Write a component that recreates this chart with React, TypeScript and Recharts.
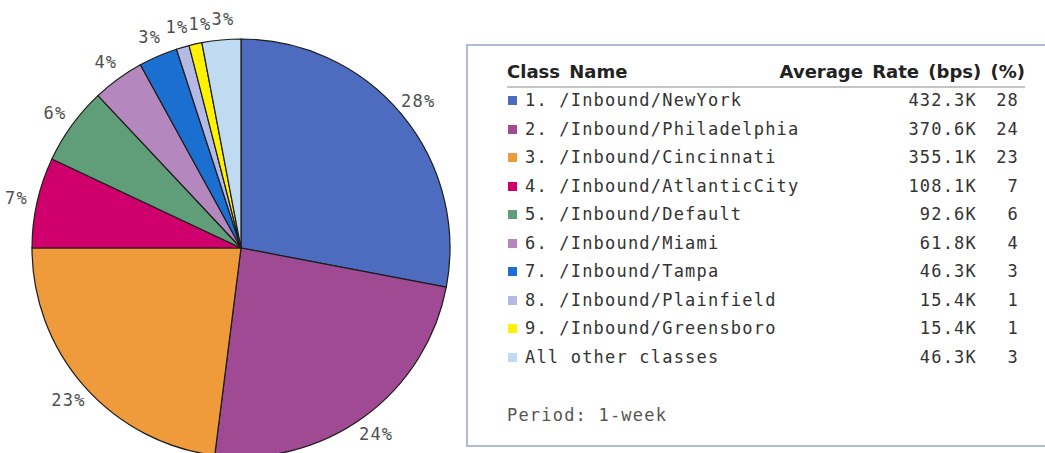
import { PieChart, Pie, Cell, Legend } from 'recharts';

const classNames = [
  '1. /Inbound/NewYork',
  '2. /Inbound/Philadelphia',
  '3. /Inbound/Cincinnati',
  '4. /Inbound/AtlanticCity',
  '5. /Inbound/Default',
  '6. /Inbound/Miami',
  '7. /Inbound/Tampa',
  '8. /Inbound/Plainfield',
  '9. /Inbound/Greensboro',
  'All other classes',
];
const avgRates = [432.3, 370.6, 355.1, 108.1, 92.6, 61.8, 46.3, 15.4, 15.4, 46.3];
const ratePercents = [28, 24, 23, 7, 6, 4, 3, 1, 1, 3];
const sliceColors = [
  '#4d6cbf',
  '#9f4a93',
  '#ef9a3b',
  '#cf006b',
  '#5f9e79',
  '#b587bf',
  '#1b6fd0',
  '#b4bae4',
  '#fff200',
  '#c0daf2',
];
const periodLabel = 'Period: 1-week';

const data = classNames.map((name, i) => ({ name, rate: avgRates[i] }));

const RADIAN = Math.PI / 180;
const MONO = '"DejaVu Sans Mono", "Liberation Mono", monospace';

// keeps the crowded labels at the top of the pie from sitting on each other
let lastRight = -Infinity;

function renderLabel(props: any) {
  const { cx, cy, midAngle, outerRadius, percent, index } = props;
  if (index === 0) lastRight = -Infinity;
  const r = outerRadius + 21;
  let x = cx + r * Math.cos(-midAngle * RADIAN);
  const y = cy + r * Math.sin(-midAngle * RADIAN);
  const text = `${Math.round(percent * 100)}%`;
  const w = text.length * 11.5;
  if (y < cy && x < cx + 20) {
    if (x - w / 2 < lastRight) x = lastRight + w / 2;
    lastRight = x + w / 2;
  }
  return (
    <text
      x={x}
      y={y}
      fill="#4f4f4f"
      textAnchor="middle"
      dominantBaseline="central"
      fontFamily={MONO}
      fontSize={17}
      letterSpacing={1.2}
    >
      {text}
    </text>
  );
}

function ClassTable() {
  return (
    <div
      style={{
        position: 'relative',
        width: 600,
        height: 403,
        boxSizing: 'border-box',
        border: '2px solid #b2b8d8',
        background: '#fff',
      }}
    >
      <div
        style={{
          position: 'absolute',
          left: 39,
          top: 16,
          width: 518,
          height: 24,
          borderBottom: '2px solid #c4c4c4',
          fontFamily: '"DejaVu Sans", sans-serif',
          fontWeight: 'bold',
          fontSize: 18,
          color: '#222',
          wordSpacing: 3,
          lineHeight: '20px',
        }}
      >
        <span style={{ position: 'absolute', left: 0, top: 0 }}>Class Name</span>
        <span style={{ position: 'absolute', right: 0, top: 0 }}>Average Rate (bps) (%)</span>
      </div>
      {classNames.map((name, i) => (
        <div
          key={name}
          style={{
            position: 'absolute',
            left: 0,
            top: 40 + i * 28.5,
            width: 560,
            height: 28.5,
            lineHeight: '28.5px',
            fontFamily: MONO,
            fontSize: 17,
            letterSpacing: 1.2,
            color: '#333',
          }}
        >
          <span
            style={{
              position: 'absolute',
              left: 40,
              top: 10,
              width: 9,
              height: 9,
              background: sliceColors[i],
            }}
          />
          <span style={{ position: 'absolute', left: 57, top: 0, whiteSpace: 'pre' }}>{name}</span>
          <span style={{ position: 'absolute', right: 51, top: 0 }}>{avgRates[i].toFixed(1)}K</span>
          <span style={{ position: 'absolute', right: 9, top: 0 }}>{ratePercents[i]}</span>
        </div>
      ))}
      <div
        style={{
          position: 'absolute',
          left: 39,
          top: 355,
          lineHeight: '28px',
          fontFamily: MONO,
          fontSize: 17,
          letterSpacing: 1.2,
          color: '#555',
        }}
      >
        {periodLabel}
      </div>
    </div>
  );
}

export default function App() {
  return (
    <div
      style={{
        position: 'absolute',
        left: 0,
        top: 0,
        width: 1045,
        height: 453,
        background: '#fff',
        overflow: 'hidden',
      }}
    >
      <PieChart width={1045} height={453} margin={{ top: 0, right: 0, bottom: 0, left: 0 }}>
        <Pie
          data={data}
          dataKey="rate"
          nameKey="name"
          cx={241}
          cy={248}
          outerRadius={209}
          startAngle={90}
          endAngle={-270}
          stroke="#1c1c1c"
          strokeWidth={1.2}
          label={renderLabel}
          labelLine={false}
          isAnimationActive={false}
        >
          {data.map((d, i) => (
            <Cell key={d.name} fill={sliceColors[i]} />
          ))}
        </Pie>
        <Legend
          layout="vertical"
          align="right"
          verticalAlign="top"
          content={() => <ClassTable />}
          wrapperStyle={{ left: 466, top: 44, width: 600, height: 403, right: 'auto' }}
        />
      </PieChart>
    </div>
  );
}
